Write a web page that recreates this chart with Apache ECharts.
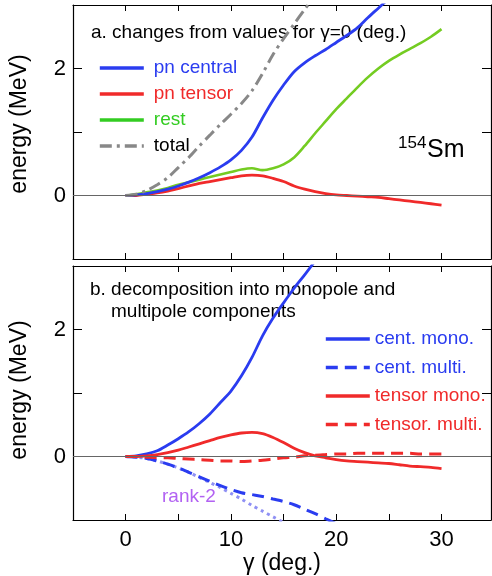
<!DOCTYPE html>
<html>
<head>
<meta charset="utf-8">
<script src="https://cdn.jsdelivr.net/npm/echarts@6/dist/echarts.min.js"></script>
<style>html,body{margin:0;padding:0;background:#fff}#c{width:492px;height:576px}</style>
</head>
<body>
<div id="c"></div>
<script>
// gamma values (deg.)
var gamma = [0,1,2,3,4,5,6,7,8,9,10,11,12,13,14,15,16,17,18,19,20,21,22,23,24,25,26,27,28,29,30];

// panel a: changes from values for gamma=0 (MeV)
var pnCentral = [0,0.01,0.03,0.06,0.1,0.15,0.21,0.28,0.36,0.45,0.56,0.71,0.92,1.22,1.5,1.74,1.95,2.09,2.2,2.3,2.41,2.52,2.64,2.8,2.95,3.1,null,null,null,null,null];
var pnTensor  = [0,0,0.02,0.04,0.07,0.11,0.15,0.19,0.22,0.25,0.28,0.31,0.32,0.31,0.27,0.22,0.15,0.1,0.06,0.03,0.01,0,-0.01,-0.02,-0.03,-0.05,-0.07,-0.09,-0.11,-0.13,-0.15];
var rest      = [0,0.02,0.05,0.08,0.12,0.17,0.21,0.25,0.29,0.33,0.37,0.41,0.43,0.4,0.43,0.49,0.6,0.78,0.98,1.17,1.36,1.53,1.7,1.86,2.0,2.12,2.22,2.31,2.4,2.5,2.62];
var total     = [0,0.02,0.08,0.17,0.28,0.44,0.6,0.78,0.95,1.12,1.28,1.45,1.65,1.92,2.22,2.47,2.7,2.93,3.15,null,null,null,null,null,null,null,null,null,null,null,null];

// panel b: monopole / multipole decomposition (MeV)
var centMono    = [0,0.01,0.04,0.09,0.18,0.28,0.39,0.52,0.67,0.85,1.03,1.27,1.56,1.9,2.18,2.42,2.65,2.86,3.08,null,null,null,null,null,null,null,null,null,null,null,null];
var centMulti   = [0,-0.01,-0.03,-0.07,-0.12,-0.18,-0.25,-0.32,-0.39,-0.46,-0.52,-0.57,-0.6,-0.63,-0.67,-0.71,-0.76,-0.83,-0.9,-0.98,-1.06,null,null,null,null,null,null,null,null,null,null];
var tensorMono  = [0,0,0.01,0.03,0.06,0.1,0.15,0.2,0.25,0.3,0.34,0.37,0.38,0.36,0.3,0.22,0.13,0.06,0.01,-0.02,-0.05,-0.07,-0.08,-0.09,-0.1,-0.11,-0.13,-0.15,-0.16,-0.17,-0.19];
var tensorMulti = [0,0,-0.01,-0.02,-0.02,-0.03,-0.04,-0.05,-0.06,-0.07,-0.07,-0.08,-0.07,-0.06,-0.04,-0.02,-0.01,0.01,0.02,0.03,0.04,0.04,0.05,0.05,0.05,0.05,0.05,0.05,0.04,0.04,0.04];
var rank2       = [0,-0.01,-0.03,-0.07,-0.12,-0.18,-0.25,-0.33,-0.41,-0.49,-0.58,-0.67,-0.77,-0.86,-0.95,-1.04,null,null,null,null,null,null,null,null,null,null,null,null,null,null,null];

// tick labels
var xTickLabels = [0,10,20,30];
var yTickLabels = [0,2];

var FONT = 'Liberation Sans, Arial, sans-serif';
var BLUE = '#2a3cf0', RED = '#f02a2a', GREEN = '#74cc22', GREEN_LEG = '#33cc22', GRAY = '#888888', LBLUE = '#8f90f4', PURPLE = '#b262f2';

function pairs(arr){ var out=[]; for (var i=0;i<gamma.length;i++){ if(arr[i]!==null) out.push([gamma[i],arr[i]]); } return out; }

function xAx(grid, pos, labels){
  return {
    type:'value', gridIndex:grid, position:pos, min:-5, max:34.7, interval:5,
    axisLine:{show:true, onZero:false, lineStyle:{color:'#000', width:1.2}},
    axisTick:{show:true, inside:true, length:6, lineStyle:{color:'#000', width:1}},
    axisLabel:{show:labels, margin:9, fontSize:22, color:'#000', fontFamily:FONT, showMaxLabel:false,
      formatter:function(v){ return xTickLabels.indexOf(v)>=0 ? String(v) : ''; }},
    splitLine:{show:false},
    name: labels ? 'γ (deg.)' : '', nameLocation:'middle', nameGap:30,
    nameTextStyle:{fontSize:23, color:'#000', fontFamily:FONT}
  };
}
function yAx(grid, pos, labels, pad){
  return {
    type:'value', gridIndex:grid, position:pos, min:-1, max:3, interval:1,
    axisLine:{show:true, onZero:false, lineStyle:{color:'#000', width:1.2}},
    axisTick:{show:true, inside:true, length:9, lineStyle:{color:'#000', width:1}},
    axisLabel:{show:labels, margin:7, fontSize:22, color:'#000', fontFamily:FONT,
      formatter:function(v){ return yTickLabels.indexOf(v)>=0 ? String(v) : ''; }},
    splitLine:{show:false},
    name: labels ? 'energy (MeV)' : '', nameLocation:'middle', nameGap:42,
    nameTextStyle:{fontSize:23, color:'#000', fontFamily:FONT, padding:[0,0,0,pad||0]}
  };
}
function zeroLine(){
  return {silent:true, symbol:'none', label:{show:false}, animation:false,
    lineStyle:{color:'#666', width:1, type:'solid'}, data:[{yAxis:0}]};
}
function line(name, arr, xi, yi, color, width, type, extra){
  var s = {name:name, type:'line', xAxisIndex:xi, yAxisIndex:yi, data:pairs(arr),
    showSymbol:false, symbol:'none', smooth:0.3, clip:true, animation:false,
    lineStyle:{color:color, width:width, type:type, cap:'butt'}, itemStyle:{color:color}, z:3};
  if (extra) for (var k in extra) s[k]=extra[k];
  return s;
}

var chart = echarts.init(document.getElementById('c'), null, {renderer:'canvas'});
chart.setOption({
  backgroundColor:'#fff',
  animation:false,
  grid:[
    {left:70, top:5, width:421, height:254, show:false},
    {left:70, top:266, width:421, height:254, show:false}
  ],
  xAxis:[xAx(0,'bottom',false), xAx(0,'top',false), xAx(1,'bottom',true), xAx(1,'top',false)],
  yAxis:[yAx(0,'left',true,16), yAx(0,'right',false), yAx(1,'left',true,6), yAx(1,'right',false)],
  legend:[
    {orient:'vertical', left:93, top:53, itemWidth:44, itemHeight:14, itemGap:6,
     itemStyle:{opacity:0}, lineStyle:{width:3.6},
     textStyle:{fontSize:19, fontFamily:FONT, lineHeight:20, padding:[0,0,0,5]},
     data:[
       {name:'pn central', textStyle:{color:BLUE}},
       {name:'pn tensor', textStyle:{color:RED}},
       {name:'rest', textStyle:{color:GREEN_LEG}, lineStyle:{color:GREEN_LEG}},
       {name:'total', textStyle:{color:'#000'}}
     ]},
    {orient:'vertical', left:319, top:324, itemWidth:44, itemHeight:14, itemGap:8.5,
     itemStyle:{opacity:0}, lineStyle:{width:3.6},
     textStyle:{fontSize:19, fontFamily:FONT, lineHeight:20, padding:[0,0,0,0]},
     data:[
       {name:'cent. mono.', textStyle:{color:BLUE}},
       {name:'cent. multi.', textStyle:{color:BLUE}},
       {name:'tensor mono.', textStyle:{color:RED}},
       {name:'tensor. multi.', textStyle:{color:RED}}
     ]}
  ],
  graphic:[
    {type:'text', x:91, y:33, style:{text:'a. changes from values for γ=0 (deg.)', fontSize:19, fontFamily:FONT, fill:'#000', verticalAlign:'middle'}},
    {type:'text', x:90, y:290, style:{text:'b. decomposition into monopole and', fontSize:19, fontFamily:FONT, fill:'#000', verticalAlign:'middle'}},
    {type:'text', x:111, y:312, style:{text:'multipole components', fontSize:19, fontFamily:FONT, fill:'#000', verticalAlign:'middle'}},
    {type:'text', x:398, y:143, style:{text:'154', fontSize:17, fontFamily:FONT, fill:'#000', verticalAlign:'middle'}},
    {type:'text', x:427, y:150, style:{text:'Sm', fontSize:25, fontFamily:FONT, fill:'#000', verticalAlign:'middle'}},
    {type:'text', x:162, y:497, style:{text:'rank-2', fontSize:19, fontFamily:FONT, fill:PURPLE, verticalAlign:'middle'}}
  ],
  series:[
    line('rest', rest, 0, 0, GREEN, 2.6, 'solid', {markLine:zeroLine()}),
    line('pn tensor', pnTensor, 0, 0, RED, 2.8, 'solid'),
    line('pn central', pnCentral, 0, 0, BLUE, 2.8, 'solid'),
    line('total', total, 0, 0, GRAY, 3, [12,5,3,5]),
    line('rank-2', rank2, 2, 2, LBLUE, 3, [3,4], {markLine:zeroLine()}),
    line('cent. multi.', centMulti, 2, 2, BLUE, 3, [12,7]),
    line('cent. mono.', centMono, 2, 2, BLUE, 2.8, 'solid'),
    line('tensor. multi.', tensorMulti, 2, 2, RED, 3, [12,7]),
    line('tensor mono.', tensorMono, 2, 2, RED, 2.8, 'solid')
  ]
});
</script>
</body>
</html>
